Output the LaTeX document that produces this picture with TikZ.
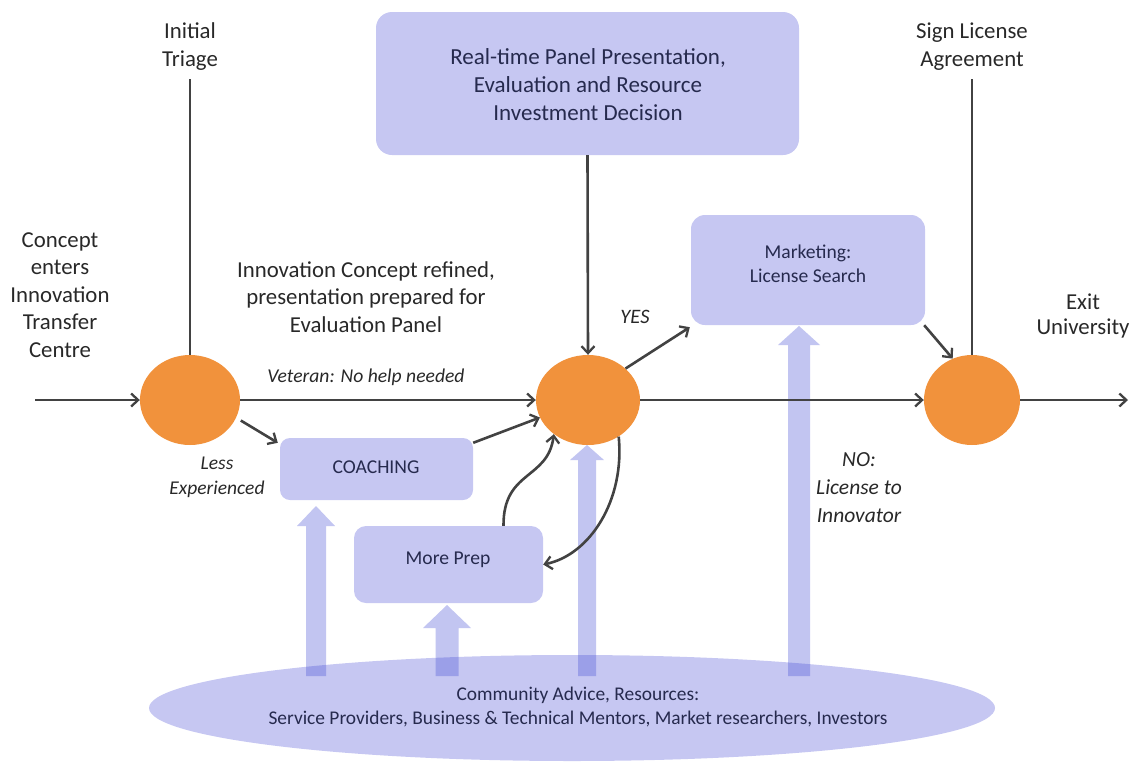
\documentclass[tikz,border=0pt]{standalone}
\usepackage{fontspec}
\setmainfont{Carlito}
\usetikzlibrary{arrows.meta,shapes.geometric,calc}

\definecolor{boxfill}{RGB}{198,199,242}
\definecolor{dotorange}{RGB}{241,146,60}
\definecolor{linegray}{RGB}{66,66,66}
\definecolor{inkblue}{RGB}{38,42,78}
\definecolor{inkgray}{RGB}{40,40,40}
\definecolor{flowblue}{RGB}{70,80,212}

\tikzset{
  box/.style={fill=boxfill, rounded corners=16pt, inner sep=0pt},
  boxtext/.style={text=inkblue, align=center, inner sep=0pt},
  plain/.style={text=inkgray, align=center, inner sep=0pt},
  dot/.style={ellipse, fill=dotorange, minimum width=100pt, minimum height=90pt, inner sep=0pt},
  wire/.style={draw=linegray, line width=2.6pt},
  flow/.style={wire, -{Straight Barb[length=7pt,width=13pt,line width=2.3pt]}},
  supply/.style={fill=flowblue, fill opacity=0.33}
}

% upward block arrow: x, bottom y, tip y, head base y, shaft half width, head half width
\newcommand{\upblock}[6]{%
  \fill[supply] (#1-#5,#2) -- (#1-#5,#4) -- (#1-#6,#4) -- (#1,#3) --
    (#1+#6,#4) -- (#1+#5,#4) -- (#1+#5,#2) -- cycle;}

\begin{document}
\begin{tikzpicture}[x=1pt,y=-1pt]
\useasboundingbox (0,0) rectangle (1133,764);

% resource pool
\node[ellipse, fill=boxfill, minimum width=846pt, minimum height=106pt, inner sep=0pt] (pool) at (572,708) {};
\node[plain, text=inkblue, font=\fontsize{19.4}{24}\selectfont] (pooltext) at (578,707)
  {Community Advice, Resources:\\Service Providers, Business \& Technical Mentors, Market researchers, Investors};

% process boxes
\node[box, minimum width=423pt, minimum height=143pt] (panel) at (587.5,83.5) {};
\node[boxtext, font=\fontsize{23}{28}\selectfont] (paneltext) at (588,85)
  {Real-time Panel Presentation,\\Evaluation and Resource\\Investment Decision};
\node[box, minimum width=234pt, minimum height=110pt, rounded corners=14pt] (mkt) at (808,270) {};
\node[boxtext, font=\fontsize{19.6}{24}\selectfont] (mkttext) at (808,264) {Marketing:\\License Search};
\node[box, minimum width=193pt, minimum height=62pt, rounded corners=10pt] (coach) at (376.5,469) {};
\node[boxtext, font=\fontsize{19.6}{22}\selectfont] (coachtext) at (376,467) {COACHING};
\node[box, minimum width=189pt, minimum height=77pt, rounded corners=12pt] (prep) at (448.5,564.5) {};
\node[boxtext, font=\fontsize{19.6}{22}\selectfont] (preptext) at (448,560) {More Prep};

% decision points
\node[dot] (c1) at (190,400) {};
\node[dot, minimum width=104pt] (c2) at (588,400) {};
\node[dot, minimum width=96pt] (c3) at (972,400) {};

% resource supply arrows
\upblock{316}{676}{506}{526}{10}{19}
\upblock{447}{676}{605}{628}{11.5}{24}
\upblock{587}{676}{445}{460}{9}{17}
\upblock{799}{676}{326}{345}{11}{21}

% labels
\node[plain, font=\fontsize{22.8}{28}\selectfont] (triage) at (190,47) {Initial\\Triage};
\node[plain, font=\fontsize{22.8}{28}\selectfont] (sign) at (972,47) {Sign License\\Agreement};
\node[plain, font=\fontsize{22.8}{27.5}\selectfont] (enter) at (60,295) {Concept\\enters\\Innovation\\Transfer\\Centre};
\node[plain, font=\fontsize{22.8}{27.5}\selectfont] (refine) at (366,297) {Innovation Concept refined,\\presentation prepared for\\Evaluation Panel};
\node[plain, font=\fontsize{22.8}{25}\selectfont] (exit) at (1083,316) {Exit\\University};
\node[plain, font=\itshape\fontsize{19.6}{22}\selectfont] (vet) at (366,377) {Veteran: No help needed};
\node[plain, font=\itshape\fontsize{20.5}{22}\selectfont] (yes) at (635,317) {YES};
\node[plain, font=\itshape\fontsize{21.5}{28}\selectfont] (no) at (859,488) {NO:\\License to\\Innovator};
\node[plain, font=\itshape\fontsize{19.5}{25}\selectfont] (less) at (217,477) {Less\\Experienced};

% connectors
\coordinate (in) at (35,400);
\coordinate (out) at (1128,400);
\coordinate (triagetop) at (190,79);
\coordinate (signtop) at (972,79);
\draw[flow] (in) -- (c1);
\draw[flow] (c1) -- (c2);
\draw[flow] (c2) -- (c3);
\draw[flow] (c3) -- (out);
\draw[wire] (triagetop) -- (c1.north);
\draw[wire] (signtop) -- (c3.north);
\draw[flow] (panel.south) -- (c2.north);
\draw[flow] (c2.40) -- ($(mkt.south west)+(-1,2)$);
\draw[flow] ($(mkt.south east)+(-1,0)$) -- (c3.115);
\draw[flow] ($(c1.-22)+(5,2)$) -- ($(coach.north west)+(-2,5)$);
\draw[flow] ($(coach.north east)+(0,5)$) -- (c2.200);
\draw[flow] ($(prep.north)+(55,0)$) .. controls (503,470) and (548,480) .. (c2.225);
\draw[flow] (c2.-50) .. controls (625,500) and (590,555) .. (prep.east);
\end{tikzpicture}
\end{document}
